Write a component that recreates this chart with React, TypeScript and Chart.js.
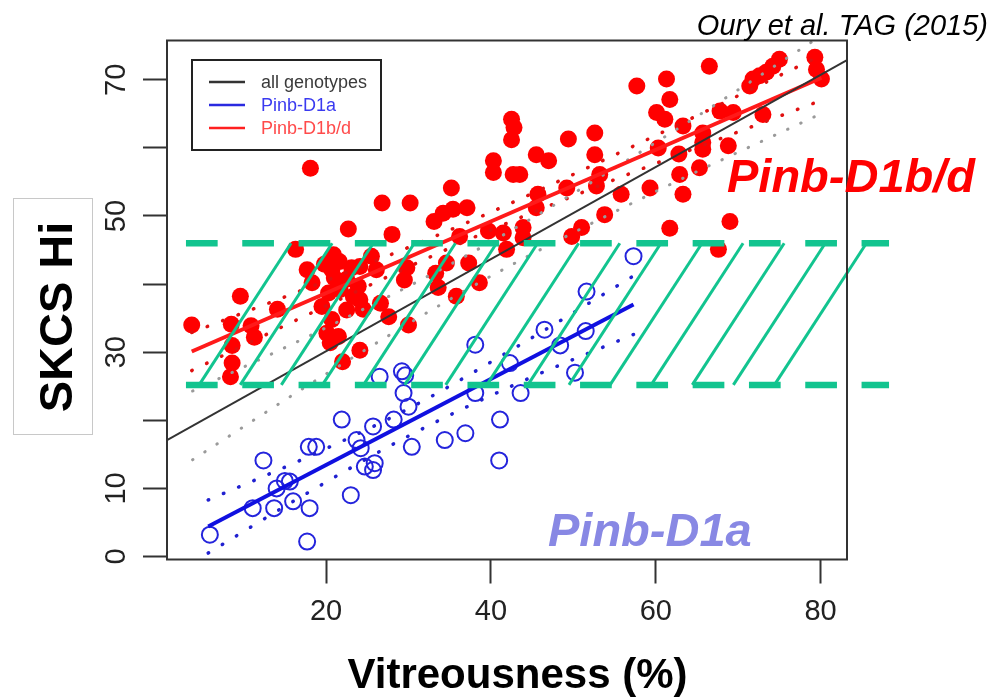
import React, { useEffect, useRef } from 'react';
import { Chart, registerables } from 'chart.js';

Chart.register(...registerables);

// ---------- data ----------
const redPoints: [number, number][] = [
  [3.7, 34.0], [8.5, 34.1], [8.6, 31.0], [8.6, 28.4], [8.4, 26.4], [9.6, 38.2],
  [10.9, 33.9], [11.3, 32.2], [14.1, 36.3], [16.3, 45.1], [17.7, 42.1], [18.1, 57.0],
  [18.3, 40.2], [19.5, 36.7], [19.8, 42.9], [20.7, 42.1], [20.3, 38.7], [20.7, 34.8],
  [20.1, 32.8], [20.5, 31.4], [21.6, 43.3], [21.5, 32.3], [22.0, 28.6], [22.5, 40.7],
  [22.7, 48.1], [23.1, 42.4], [23.9, 39.7], [23.3, 38.2], [24.1, 37.7], [24.5, 36.3],
  [24.1, 30.3], [25.5, 44.1], [26.1, 42.1], [26.8, 51.9], [26.6, 37.2], [27.6, 35.2],
  [28.0, 47.3], [29.8, 42.4], [29.5, 40.6], [30.0, 34.0], [30.2, 51.9], [33.1, 49.2],
  [33.3, 41.6], [33.6, 39.5], [34.2, 50.4], [34.6, 43.1], [35.4, 51.0], [35.8, 38.2],
  [36.2, 47.0], [37.1, 51.2], [37.3, 43.1], [38.6, 40.2], [35.2, 54.1], [21.0, 40.9],
  [20.9, 44.3], [24.1, 42.6], [22.5, 36.2], [21.7, 39.2],
  [39.7, 47.8], [40.3, 58.1], [40.3, 56.4], [41.5, 47.5], [41.9, 45.1], [42.5, 64.2],
  [42.8, 63.0], [42.5, 61.2], [42.7, 56.1], [43.5, 56.1], [43.9, 48.3], [43.9, 46.8],
  [45.5, 59.0], [47.0, 58.1], [45.7, 53.2], [45.5, 51.2], [49.4, 61.3], [49.2, 54.1],
  [51.0, 48.3], [49.8, 47.0], [52.6, 62.2], [52.6, 59.0], [53.2, 56.1], [52.8, 54.4],
  [53.8, 50.2], [55.8, 53.2], [57.7, 69.1], [59.3, 54.1], [60.1, 65.2], [61.1, 64.2],
  [61.3, 70.1], [61.7, 67.1], [60.3, 60.0], [62.8, 59.1], [62.9, 56.1], [61.7, 48.2],
  [63.3, 63.2], [65.7, 62.2], [65.7, 60.8], [65.7, 59.8], [68.8, 60.3], [65.3, 57.1],
  [63.3, 53.2], [69.0, 49.2], [67.6, 45.1], [66.5, 72.0], [67.8, 65.4], [69.4, 65.2],
  [73.0, 64.9], [71.4, 69.1], [71.8, 70.1], [72.6, 70.6], [73.4, 71.1], [74.2, 72.0],
  [75.0, 73.0], [79.3, 73.3], [79.5, 71.5], [80.1, 70.1],
];

const bluePoints: [number, number][] = [
  [5.9, 3.2], [17.7, 2.2], [11.1, 7.1], [13.7, 7.1], [16.0, 8.1], [18.0, 7.1],
  [12.4, 14.1], [14.0, 10.0], [15.0, 11.1], [15.6, 11.0], [17.9, 16.1], [18.8, 16.1],
  [23.0, 9.0], [21.9, 20.1], [23.7, 17.1], [24.2, 15.9], [24.7, 13.2], [25.7, 12.7],
  [25.9, 13.7], [25.7, 19.1], [28.2, 20.1], [29.2, 27.2], [29.6, 26.6], [29.4, 24.0],
  [30.0, 22.0], [30.4, 16.1], [26.5, 26.4], [34.4, 17.1], [36.9, 18.1], [38.1, 31.1],
  [38.1, 24.0], [41.1, 20.1], [41.0, 14.1], [42.3, 28.4], [43.6, 24.0], [46.5, 33.3],
  [48.4, 31.0], [50.2, 27.0], [51.5, 33.1], [51.6, 38.9], [57.3, 44.1],
];

// fitted lines (end points)
const allFit: [number, number][] = [[0.7, 17.1], [83.2, 72.9]];
const redFit: [number, number][] = [[3.7, 30.1], [80.1, 70.3]];
const blueFit: [number, number][] = [[5.7, 4.4], [57.3, 37.0]];

// dotted confidence curves
const grayUpper: [number, number][] = [[3.8, 24.3], [20, 33.6], [39, 45.5], [60, 60.8], [80, 76.4]];
const grayLower: [number, number][] = [[3.8, 14.2], [20, 26.8], [39, 40.5], [60, 53.6], [80, 65.0]];
const redUpper: [number, number][] = [[3.7, 32.9], [20, 40.5], [38, 49.5], [57, 60.1], [80.1, 73.6]];
const redLower: [number, number][] = [[3.7, 27.3], [20, 36.8], [38, 46.9], [57, 56.3], [80.1, 67.0]];
const blueUpper: [number, number][] = [[5.7, 8.3], [17, 14.2], [30, 21.7], [43, 30.7], [57.3, 41.2]];
const blueLower: [number, number][] = [[5.7, 0.5], [17, 8.8], [30, 17.7], [43, 25.3], [57.3, 32.6]];

// highlighted band (value ranges)
const bandX: [number, number] = [3.0, 88.3];
const bandY: [number, number] = [25.2, 46.0];

const xRange: [number, number] = [0.7, 83.2];
const yRange: [number, number] = [-0.44, 75.77];
const xTickValues = [20, 40, 60, 80];
const yTickValues = [0, 10, 20, 30, 40, 50, 60, 70];
const yTickLabeled = [0, 10, 30, 50, 70];

const legendLabels = ['all genotypes', 'Pinb-D1a', 'Pinb-D1b/d'];
const xTitle = 'Vitreousness (%)';
const yTitle = 'SKCS Hi';
const citation = 'Oury et al. TAG (2015)';
const redGroupLabel = 'Pinb-D1b/d';
const blueGroupLabel = 'Pinb-D1a';

// ---------- styles ----------
const FONT = "'Liberation Sans', Arial, Helvetica, sans-serif";
const RED = '#ff0000';
const BLUE = '#2424dc';
const GREEN = '#12c48f';

const toXY = (a: [number, number][]) => a.map(([x, y]) => ({ x, y }));

const overlayPlugin = {
  id: 'overlay',
  afterDatasetsDraw(chart: any) {
    const { ctx } = chart;
    const xs = chart.scales.x;
    const ys = chart.scales.y;
    const px0 = xs.getPixelForValue(bandX[0]);
    const px1 = xs.getPixelForValue(bandX[1]);
    const pyT = ys.getPixelForValue(bandY[1]);
    const pyB = ys.getPixelForValue(bandY[0]);
    ctx.save();
    ctx.strokeStyle = GREEN;
    // hatch
    ctx.lineWidth = 3;
    ctx.setLineDash([]);
    const n = 15;
    const hStart = 4.6;
    const hEnd = 74.4;
    const hdx = 11.15;
    for (let i = 0; i < n; i++) {
      const xb = hStart + (i * (hEnd - hStart)) / (n - 1);
      ctx.beginPath();
      ctx.moveTo(xs.getPixelForValue(xb), pyB);
      ctx.lineTo(xs.getPixelForValue(xb + hdx), pyT);
      ctx.stroke();
    }
    // dashed borders
    ctx.lineWidth = 6.5;
    ctx.lineCap = 'butt';
    ctx.setLineDash([31.7, 24.6]);
    ctx.beginPath();
    ctx.moveTo(px0, pyT);
    ctx.lineTo(px1, pyT);
    ctx.stroke();
    ctx.beginPath();
    ctx.moveTo(px0, pyB);
    ctx.lineTo(px1, pyB);
    ctx.stroke();
    ctx.restore();
  },
  afterDraw(chart: any) {
    const { ctx, chartArea: ca } = chart;
    ctx.save();
    // frame
    ctx.strokeStyle = '#333';
    ctx.lineWidth = 2;
    ctx.setLineDash([]);
    ctx.strokeRect(ca.left, ca.top, ca.right - ca.left, ca.bottom - ca.top);

    // legend
    const lx = ca.left + 25;
    const ly = ca.top + 19.5;
    ctx.lineWidth = 2;
    ctx.strokeStyle = '#222';
    ctx.strokeRect(lx, ly, 189, 90);
    const lineCols = ['#333333', '#2a2ae0', '#ff2020'];
    const textCols = ['#3a3a3a', '#3a3af0', '#ff4a4a'];
    ctx.font = `18px ${FONT}`;
    ctx.textBaseline = 'middle';
    ctx.textAlign = 'left';
    legendLabels.forEach((lab, i) => {
      const yy = ly + 22 + i * 23;
      ctx.strokeStyle = lineCols[i];
      ctx.lineWidth = 2.5;
      ctx.beginPath();
      ctx.moveTo(lx + 17, yy);
      ctx.lineTo(lx + 53, yy);
      ctx.stroke();
      ctx.fillStyle = textCols[i];
      ctx.fillText(lab, lx + 69, yy + 1);
    });

    // x title
    ctx.fillStyle = '#000';
    ctx.font = `bold 42px ${FONT}`;
    ctx.textAlign = 'center';
    ctx.textBaseline = 'alphabetic';
    ctx.fillText(xTitle, 517.5, 688);

    // y title with box
    ctx.strokeStyle = '#c8c8c8';
    ctx.lineWidth = 1;
    ctx.strokeRect(13.5, 198.5, 79, 236);
    ctx.save();
    ctx.translate(72, 317);
    ctx.rotate(-Math.PI / 2);
    ctx.font = `bold 47px ${FONT}`;
    ctx.textAlign = 'center';
    ctx.textBaseline = 'alphabetic';
    ctx.fillStyle = '#000';
    ctx.fillText(yTitle, 0, 0);
    ctx.restore();

    // citation
    ctx.font = `italic 29px ${FONT}`;
    ctx.textAlign = 'right';
    ctx.fillStyle = '#000';
    ctx.fillText(citation, 988, 35);

    // group labels
    ctx.font = `italic bold 47px ${FONT}`;
    ctx.textAlign = 'left';
    ctx.fillStyle = RED;
    ctx.fillText(redGroupLabel, 727, 192);
    ctx.fillStyle = '#8888e4';
    ctx.fillText(blueGroupLabel, 548, 546);
    ctx.restore();
  },
};

const dotted = (data: [number, number][], color: string, width: number, gap: number, order: number) => ({
  data: toXY(data),
  showLine: true,
  borderColor: color,
  borderWidth: width,
  borderDash: [0.5, gap],
  borderCapStyle: 'round',
  pointRadius: 0,
  tension: 0.4,
  cubicInterpolationMode: 'monotone',
  fill: false,
  order,
});

const solid = (data: [number, number][], color: string, width: number, order: number) => ({
  data: toXY(data),
  showLine: true,
  borderColor: color,
  borderWidth: width,
  pointRadius: 0,
  fill: false,
  order,
});

export default function App() {
  const ref = useRef<HTMLCanvasElement | null>(null);
  useEffect(() => {
    if (!ref.current) return;
    const chart = new Chart(ref.current, {
      type: 'scatter',
      data: {
        datasets: [
          solid(allFit, '#333333', 2, 1),
          solid(redFit, '#ff1a1a', 4, 2),
          solid(blueFit, '#1010e0', 4, 3),
          dotted(grayUpper, '#9a9a9a', 3, 14, 4),
          dotted(grayLower, '#9a9a9a', 3, 14, 4),
          dotted(redUpper, '#e01010', 3.5, 16, 5),
          dotted(redLower, '#e01010', 3.5, 16, 5),
          dotted(blueUpper, '#2020d0', 3.5, 16, 6),
          dotted(blueLower, '#2020d0', 3.5, 16, 6),
          {
            data: toXY(bluePoints),
            pointRadius: 8,
            pointBorderWidth: 2,
            pointBorderColor: BLUE,
            pointBackgroundColor: 'rgba(0,0,0,0)',
            order: 7,
          },
          {
            data: toXY(redPoints),
            pointRadius: 8.5,
            pointBorderWidth: 0,
            pointBackgroundColor: RED,
            pointBorderColor: RED,
            order: 8,
          },
        ] as any,
      },
      options: {
        animation: false,
        responsive: false,
        maintainAspectRatio: false,
        layout: { padding: { left: 0, top: 40.5, right: 147, bottom: 0 } },
        plugins: { legend: { display: false }, tooltip: { enabled: false } },
        scales: {
          x: {
            type: 'linear',
            min: xRange[0],
            max: xRange[1],
            afterBuildTicks: (s: any) => {
              s.ticks = xTickValues.map((v) => ({ value: v }));
            },
            afterFit: (s: any) => {
              s.height = 137.5;
            },
            border: { display: false },
            grid: {
              display: true,
              drawOnChartArea: false,
              drawTicks: true,
              tickLength: 24,
              tickWidth: 2,
              tickColor: '#333',
            },
            ticks: {
              autoSkip: false,
              minRotation: 0,
              maxRotation: 0,
              padding: 11,
              color: '#222',
              font: { family: FONT, size: 29 },
              callback: (v: any) => String(v),
            },
          },
          y: {
            type: 'linear',
            min: yRange[0],
            max: yRange[1],
            afterBuildTicks: (s: any) => {
              s.ticks = yTickValues.map((v) => ({ value: v }));
            },
            afterFit: (s: any) => {
              s.width = 167;
            },
            border: { display: false },
            grid: {
              display: true,
              drawOnChartArea: false,
              drawTicks: true,
              tickLength: 24,
              tickWidth: 2,
              tickColor: '#333',
            },
            ticks: {
              autoSkip: false,
              minRotation: 90,
              maxRotation: 90,
              crossAlign: 'center',
              padding: 10,
              color: '#222',
              font: { family: FONT, size: 29 },
              callback: (v: any) => (yTickLabeled.includes(Number(v)) ? String(v) : ''),
            },
          },
        },
      } as any,
      plugins: [overlayPlugin],
    });
    return () => chart.destroy();
  }, []);

  return (
    <div style={{ position: 'absolute', left: 0, top: 0, width: 994, height: 697, background: '#fff' }}>
      <canvas ref={ref} width={994} height={697} style={{ width: 994, height: 697, display: 'block' }} />
    </div>
  );
}
